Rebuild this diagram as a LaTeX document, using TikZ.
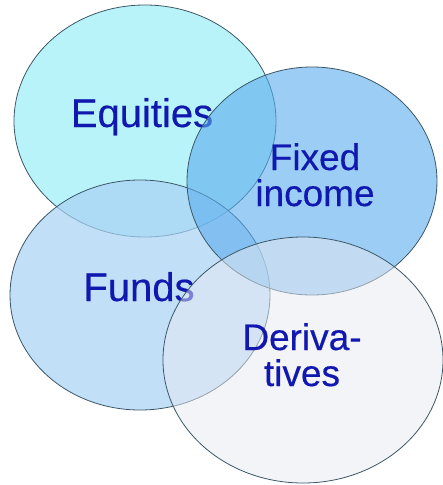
\documentclass[tikz,border=0pt]{standalone}
\usepackage{fontspec}
\usepackage{xcolor}
\usepackage{tikz}
\usetikzlibrary{positioning}
\newfontfamily\setfont[FakeBold=0.4]{Liberation Sans}
\definecolor{eqcol}{HTML}{9CEEF8}
\definecolor{ficol}{HTML}{5AACEE}
\definecolor{fucol}{HTML}{A8D2F4}
\definecolor{decol}{HTML}{E8EAF2}
\definecolor{setline}{HTML}{3C5868}
\definecolor{settext}{HTML}{1018B0}
\tikzset{
  setshape/.style={draw=setline, line width=0.8pt, fill opacity=0.7},
  setlabel/.style={text=settext, inner sep=0pt, align=center, font=\setfont\fontsize{37}{36}\selectfont},
  biglabel/.style={setlabel, anchor=base, font=\setfont\fontsize{40}{40}\selectfont}
}

\begin{document}
\begin{tikzpicture}[x=1pt,y=-1pt]
      \useasboundingbox (0,0) rectangle (443,485);
      \fill[white] (0,0) rectangle (443,485);
      \draw[setshape, fill=eqcol] (145,121) ellipse [x radius=131pt, y radius=116pt];
      \node[biglabel] (equities) at (142,127) {Equities};
      \draw[setshape, fill=fucol] (140,295) ellipse [x radius=130pt, y radius=115pt];
      \node[biglabel] (funds) at (139,301) {Funds};
      \draw[setshape, fill=ficol, fill opacity=0.6] (312,181) ellipse [x radius=125pt, y radius=114pt];
      \node[setlabel, anchor=north] (fixed) at (315,143) {Fixed\\income};
      \draw[setshape, fill=decol, fill opacity=0.5] (303,360) ellipse [x radius=140pt, y radius=123pt];
      \node[setlabel, anchor=north] (derivatives) at (302,323) {Deriva-\\tives};
    \end{tikzpicture}
\end{document}
